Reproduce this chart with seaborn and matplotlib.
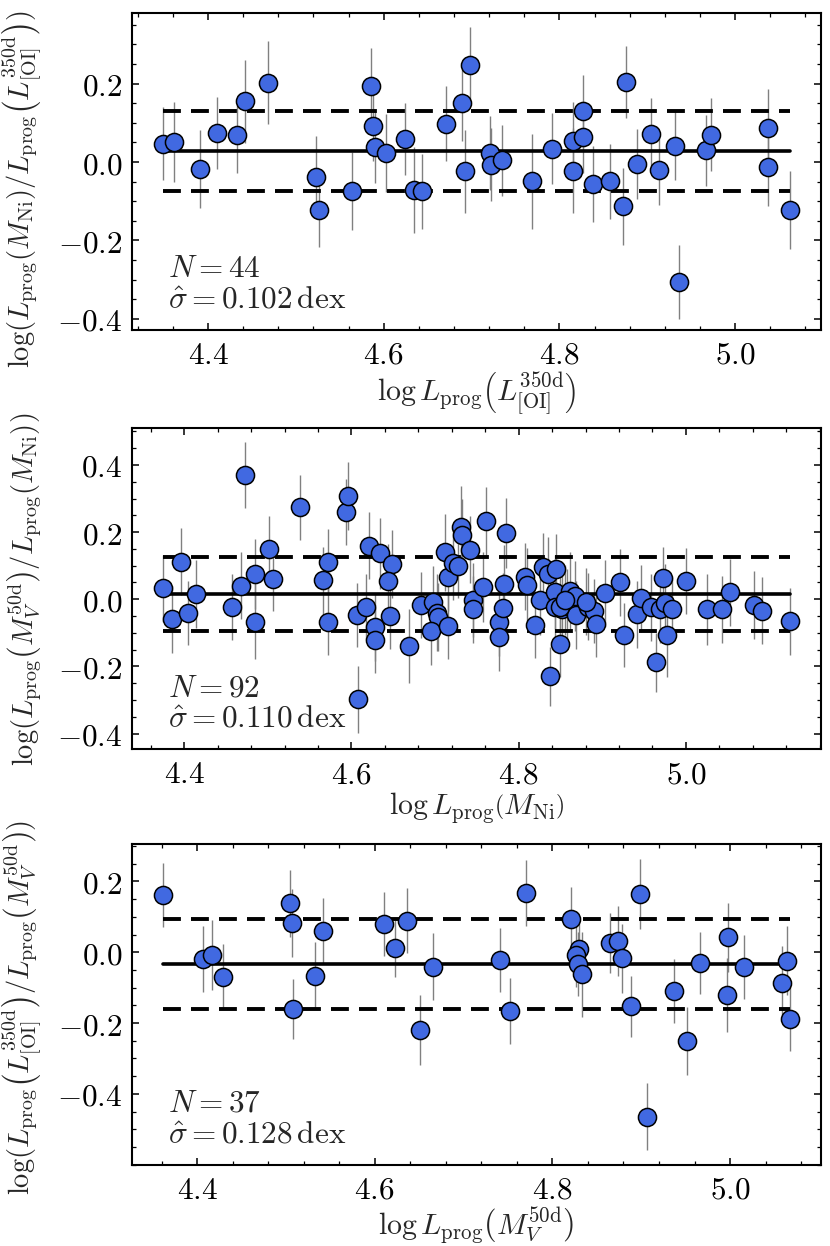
import numpy as np
import pandas as pd
import matplotlib
matplotlib.use("Agg")
import matplotlib.pyplot as plt
import seaborn as sns
from matplotlib.ticker import MultipleLocator, FuncFormatter

# ---------------- data ----------------
# Panel 1: x = log Lprog(L[OI]350d), y = log ratio
p1_x = [4.349, 4.361, 4.391, 4.410, 4.433, 4.442, 4.468, 4.523, 4.526, 4.564,
        4.586, 4.588, 4.590, 4.603, 4.624, 4.635, 4.644, 4.671, 4.689, 4.693,
        4.698, 4.721, 4.722, 4.735, 4.769, 4.791, 4.815, 4.815, 4.827, 4.827,
        4.838, 4.858, 4.876, 4.872, 4.888, 4.904, 4.913, 4.932, 4.936, 4.967,
        4.972, 5.037, 5.037, 5.062]
p1_y = [0.047, 0.051, -0.017, 0.074, 0.068, 0.155, 0.202, -0.039, -0.122, -0.073,
        0.195, 0.093, 0.038, 0.023, 0.059, -0.071, -0.075, 0.098, 0.150, -0.024,
        0.247, 0.023, -0.007, 0.004, -0.049, 0.034, 0.053, -0.022, 0.129, 0.064,
        -0.056, -0.049, 0.203, -0.113, -0.005, 0.072, -0.021, 0.042, -0.305, 0.030,
        0.070, 0.087, -0.013, -0.122]
p1_e = [0.093, 0.101, 0.099, 0.091, 0.095, 0.106, 0.106, 0.105, 0.094, 0.099,
        0.096, 0.090, 0.092, 0.100, 0.091, 0.109, 0.096, 0.095, 0.096, 0.106,
        0.098, 0.095, 0.093, 0.090, 0.121, 0.091, 0.100, 0.108, 0.094, 0.092,
        0.096, 0.096, 0.092, 0.098, 0.089, 0.091, 0.089, 0.087, 0.094, 0.090,
        0.092, 0.100, 0.100, 0.099]

# Panel 2: x = log Lprog(MNi)
p2_x = [4.375, 4.385, 4.396, 4.405, 4.414, 4.457, 4.468, 4.473, 4.485, 4.485,
        4.502, 4.506, 4.538, 4.566, 4.572, 4.572, 4.593, 4.596, 4.607, 4.608,
        4.621, 4.617, 4.628, 4.628, 4.634, 4.649, 4.644, 4.646, 4.669, 4.683,
        4.698, 4.702, 4.703, 4.695, 4.716, 4.712, 4.715, 4.721, 4.727, 4.731,
        4.732, 4.742, 4.745, 4.746, 4.757, 4.761, 4.777, 4.777, 4.781, 4.783,
        4.785, 4.808, 4.810, 4.819, 4.825, 4.829, 4.835, 4.845, 4.838, 4.843,
        4.844, 4.850, 4.852, 4.858, 4.862, 4.867, 4.869, 4.883, 4.890, 4.892,
        4.849, 4.856, 4.881, 4.903, 4.921, 4.926, 4.941, 4.946, 4.958, 4.964,
        4.969, 4.973, 4.975, 4.983, 4.978, 5.000, 5.025, 5.043, 5.053, 5.081,
        5.091, 5.124]
p2_y = [0.033, -0.060, 0.112, -0.042, 0.016, -0.024, 0.040, 0.369, 0.075, -0.067,
        0.149, 0.061, 0.274, 0.056, 0.112, -0.067, 0.259, 0.308, -0.047, -0.298,
        0.159, -0.024, -0.084, -0.121, 0.137, 0.105, 0.055, -0.049, -0.138, -0.017,
        -0.007, -0.040, -0.053, -0.096, -0.079, 0.140, 0.066, 0.109, 0.099, 0.216,
        0.190, 0.147, -0.002, -0.030, 0.036, 0.233, -0.069, -0.113, -0.027, 0.046,
        0.197, 0.067, 0.043, -0.076, -0.002, 0.097, 0.075, 0.090, -0.230, 0.021,
        -0.024, -0.133, -0.030, -0.020, 0.026, 0.010, -0.047, -0.022, -0.034, -0.073,
        -0.022, -0.002, -0.007, 0.018, 0.050, -0.106, -0.045, 0.003, -0.024, -0.188,
        -0.029, 0.063, -0.010, -0.029, -0.106, 0.055, -0.030, -0.030, 0.021, -0.017,
        -0.034, -0.065]
p2_e = [0.100, 0.100, 0.100, 0.095, 0.102, 0.098, 0.100, 0.098, 0.105, 0.112,
        0.100, 0.097, 0.097, 0.100, 0.098, 0.100, 0.098, 0.102, 0.095, 0.099,
        0.100, 0.098, 0.100, 0.098, 0.105, 0.100, 0.110, 0.100, 0.110, 0.098,
        0.105, 0.115, 0.100, 0.100, 0.100, 0.115, 0.100, 0.110, 0.095, 0.120,
        0.110, 0.100, 0.110, 0.100, 0.105, 0.100, 0.100, 0.100, 0.105, 0.115,
        0.105, 0.100, 0.110, 0.100, 0.105, 0.100, 0.110, 0.105, 0.087, 0.110,
        0.105, 0.100, 0.100, 0.110, 0.115, 0.105, 0.100, 0.100, 0.095, 0.100,
        0.110, 0.105, 0.100, 0.100, 0.100, 0.095, 0.100, 0.100, 0.100, 0.089,
        0.100, 0.094, 0.115, 0.095, 0.125, 0.099, 0.105, 0.100, 0.100, 0.100,
        0.100, 0.100]

# Panel 3: x = log Lprog(MV50d)
p3_x = [4.362, 4.407, 4.417, 4.429, 4.505, 4.507, 4.508, 4.533, 4.542, 4.610,
        4.623, 4.636, 4.651, 4.666, 4.741, 4.752, 4.770, 4.821, 4.830, 4.827,
        4.829, 4.833, 4.865, 4.874, 4.878, 4.889, 4.899, 4.907, 4.937, 4.951,
        4.966, 4.998, 4.997, 5.016, 5.058, 5.064, 5.067]
p3_y = [0.162, -0.019, -0.008, -0.069, 0.138, 0.082, -0.161, -0.066, 0.060, 0.079,
        0.011, 0.089, -0.219, -0.041, -0.022, -0.166, 0.167, 0.094, 0.009, -0.009,
        -0.034, -0.062, 0.025, 0.032, -0.017, -0.152, 0.165, -0.464, -0.109, -0.251,
        -0.031, 0.042, -0.121, -0.041, -0.086, -0.024, -0.188]
p3_e = [0.091, 0.093, 0.100, 0.092, 0.095, 0.096, 0.085, 0.094, 0.094, 0.090,
        0.080, 0.092, 0.099, 0.095, 0.090, 0.092, 0.093, 0.090, 0.090, 0.090,
        0.090, 0.120, 0.085, 0.098, 0.098, 0.086, 0.098, 0.096, 0.090, 0.097,
        0.087, 0.097, 0.105, 0.090, 0.105, 0.098, 0.092]

means = [0.027, 0.016, -0.033]
sigmas = [0.102, 0.110, 0.128]
counts = [44, 92, 37]

xlabels = [r'$\log L_{\rm prog}\left(L^{350{\rm d}}_{\rm [OI]}\right)$',
           r'$\log L_{\rm prog}\left(M_{\rm Ni}\right)$',
           r'$\log L_{\rm prog}\left(M_V^{50{\rm d}}\right)$']
ylabels = [r'$\log(L_{\rm prog}(M_{\rm Ni})/L_{\rm prog}\left(L^{350{\rm d}}_{\rm [OI]}\right))$',
           r'$\log(L_{\rm prog}\left(M_V^{50{\rm d}}\right)/L_{\rm prog}(M_{\rm Ni}))$',
           r'$\log(L_{\rm prog}\left(L^{350{\rm d}}_{\rm [OI]}\right)/L_{\rm prog}\left(M_V^{50{\rm d}}\right))$']

# ---------------- style ----------------
FS = 22.5
YFS = 20.5
XFS = 21.5
sns.set_theme(style="ticks")
plt.rcParams.update({
    "font.family": ["DejaVu Serif"],
    "mathtext.fontset": "cm",
    "font.size": FS,
    "axes.linewidth": 1.5,
    "xtick.direction": "in", "ytick.direction": "in",
    "xtick.top": True, "ytick.right": True,
    "xtick.major.size": 5, "ytick.major.size": 5,
    "xtick.minor.size": 3, "ytick.minor.size": 3,
    "xtick.major.width": 1.1, "ytick.major.width": 1.1,
    "xtick.minor.width": 0.9, "ytick.minor.width": 0.9,
    "xtick.major.pad": 7, "ytick.major.pad": 7,
    "xtick.labelsize": FS, "ytick.labelsize": FS,
    "axes.labelsize": FS,
    "xtick.color": "black", "ytick.color": "black",
    "axes.edgecolor": "black",
})

fig = plt.figure(figsize=(8.3, 12.46), dpi=100)
positions = [[0.159, 0.7352, 0.830, 0.2544],
             [0.159, 0.3986, 0.830, 0.2576],
             [0.159, 0.0650, 0.830, 0.2574]]
ylims = [(-0.428, 0.380), (-0.447, 0.509), (-0.601, 0.305)]
yticks = [[-0.4, -0.2, 0.0, 0.2], [-0.4, -0.2, 0.0, 0.2, 0.4], [-0.4, -0.2, 0.0, 0.2]]
ylabel_y = [0.445, 0.5, 0.49]

data = [(p1_x, p1_y, p1_e), (p2_x, p2_y, p2_e), (p3_x, p3_y, p3_e)]

fmt = FuncFormatter(lambda v, p: f"${v:.1f}$")

for i, (xs, ys, es) in enumerate(data):
    ax = fig.add_axes(positions[i])
    df = pd.DataFrame({"x": xs, "y": ys, "e": es})
    ax.errorbar(df["x"], df["y"], yerr=df["e"], fmt="none", ecolor="grey",
                elinewidth=1.0, capsize=0, zorder=1)
    xmin, xmax = df["x"].min(), df["x"].max()
    m, s = means[i], sigmas[i]
    ax.plot([xmin, xmax], [m, m], color="black", lw=2.6, zorder=2)
    for off in (s, -s):
        ax.plot([xmin, xmax], [m + off, m + off], color="black", lw=2.8,
                dashes=(4.6, 2.6), zorder=2)
    sns.scatterplot(data=df, x="x", y="y", ax=ax, s=170, color="royalblue",
                    edgecolor="black", linewidth=1.1, zorder=3, legend=False)
    ax.set_ylim(*ylims[i])
    ax.margins(x=0.05)
    ax.set_xticks([4.4, 4.6, 4.8, 5.0])
    ax.set_yticks(yticks[i])
    ax.xaxis.set_minor_locator(MultipleLocator(0.04))
    ax.yaxis.set_minor_locator(MultipleLocator(0.05))
    ax.xaxis.set_major_formatter(fmt)
    ax.yaxis.set_major_formatter(fmt)
    ax.tick_params(which="both", top=True, right=True, direction="in")
    ax.set_xlabel(xlabels[i], fontsize=XFS, labelpad=0)
    ax.set_ylabel(ylabels[i], fontsize=YFS)
    ax.yaxis.set_label_coords(-0.128, ylabel_y[i])
    ax.text(0.052, 0.166, rf"$N = {counts[i]}$", transform=ax.transAxes,
            fontsize=FS, va="baseline", ha="left")
    ax.text(0.052, 0.068, rf"$\hat{{\sigma}} = {s:.3f}\,\mathrm{{dex}}$",
            transform=ax.transAxes, fontsize=FS, va="baseline", ha="left")
    for sp in ax.spines.values():
        sp.set_linewidth(1.5)
        sp.set_color("black")

fig.savefig("out.png", dpi=100)
